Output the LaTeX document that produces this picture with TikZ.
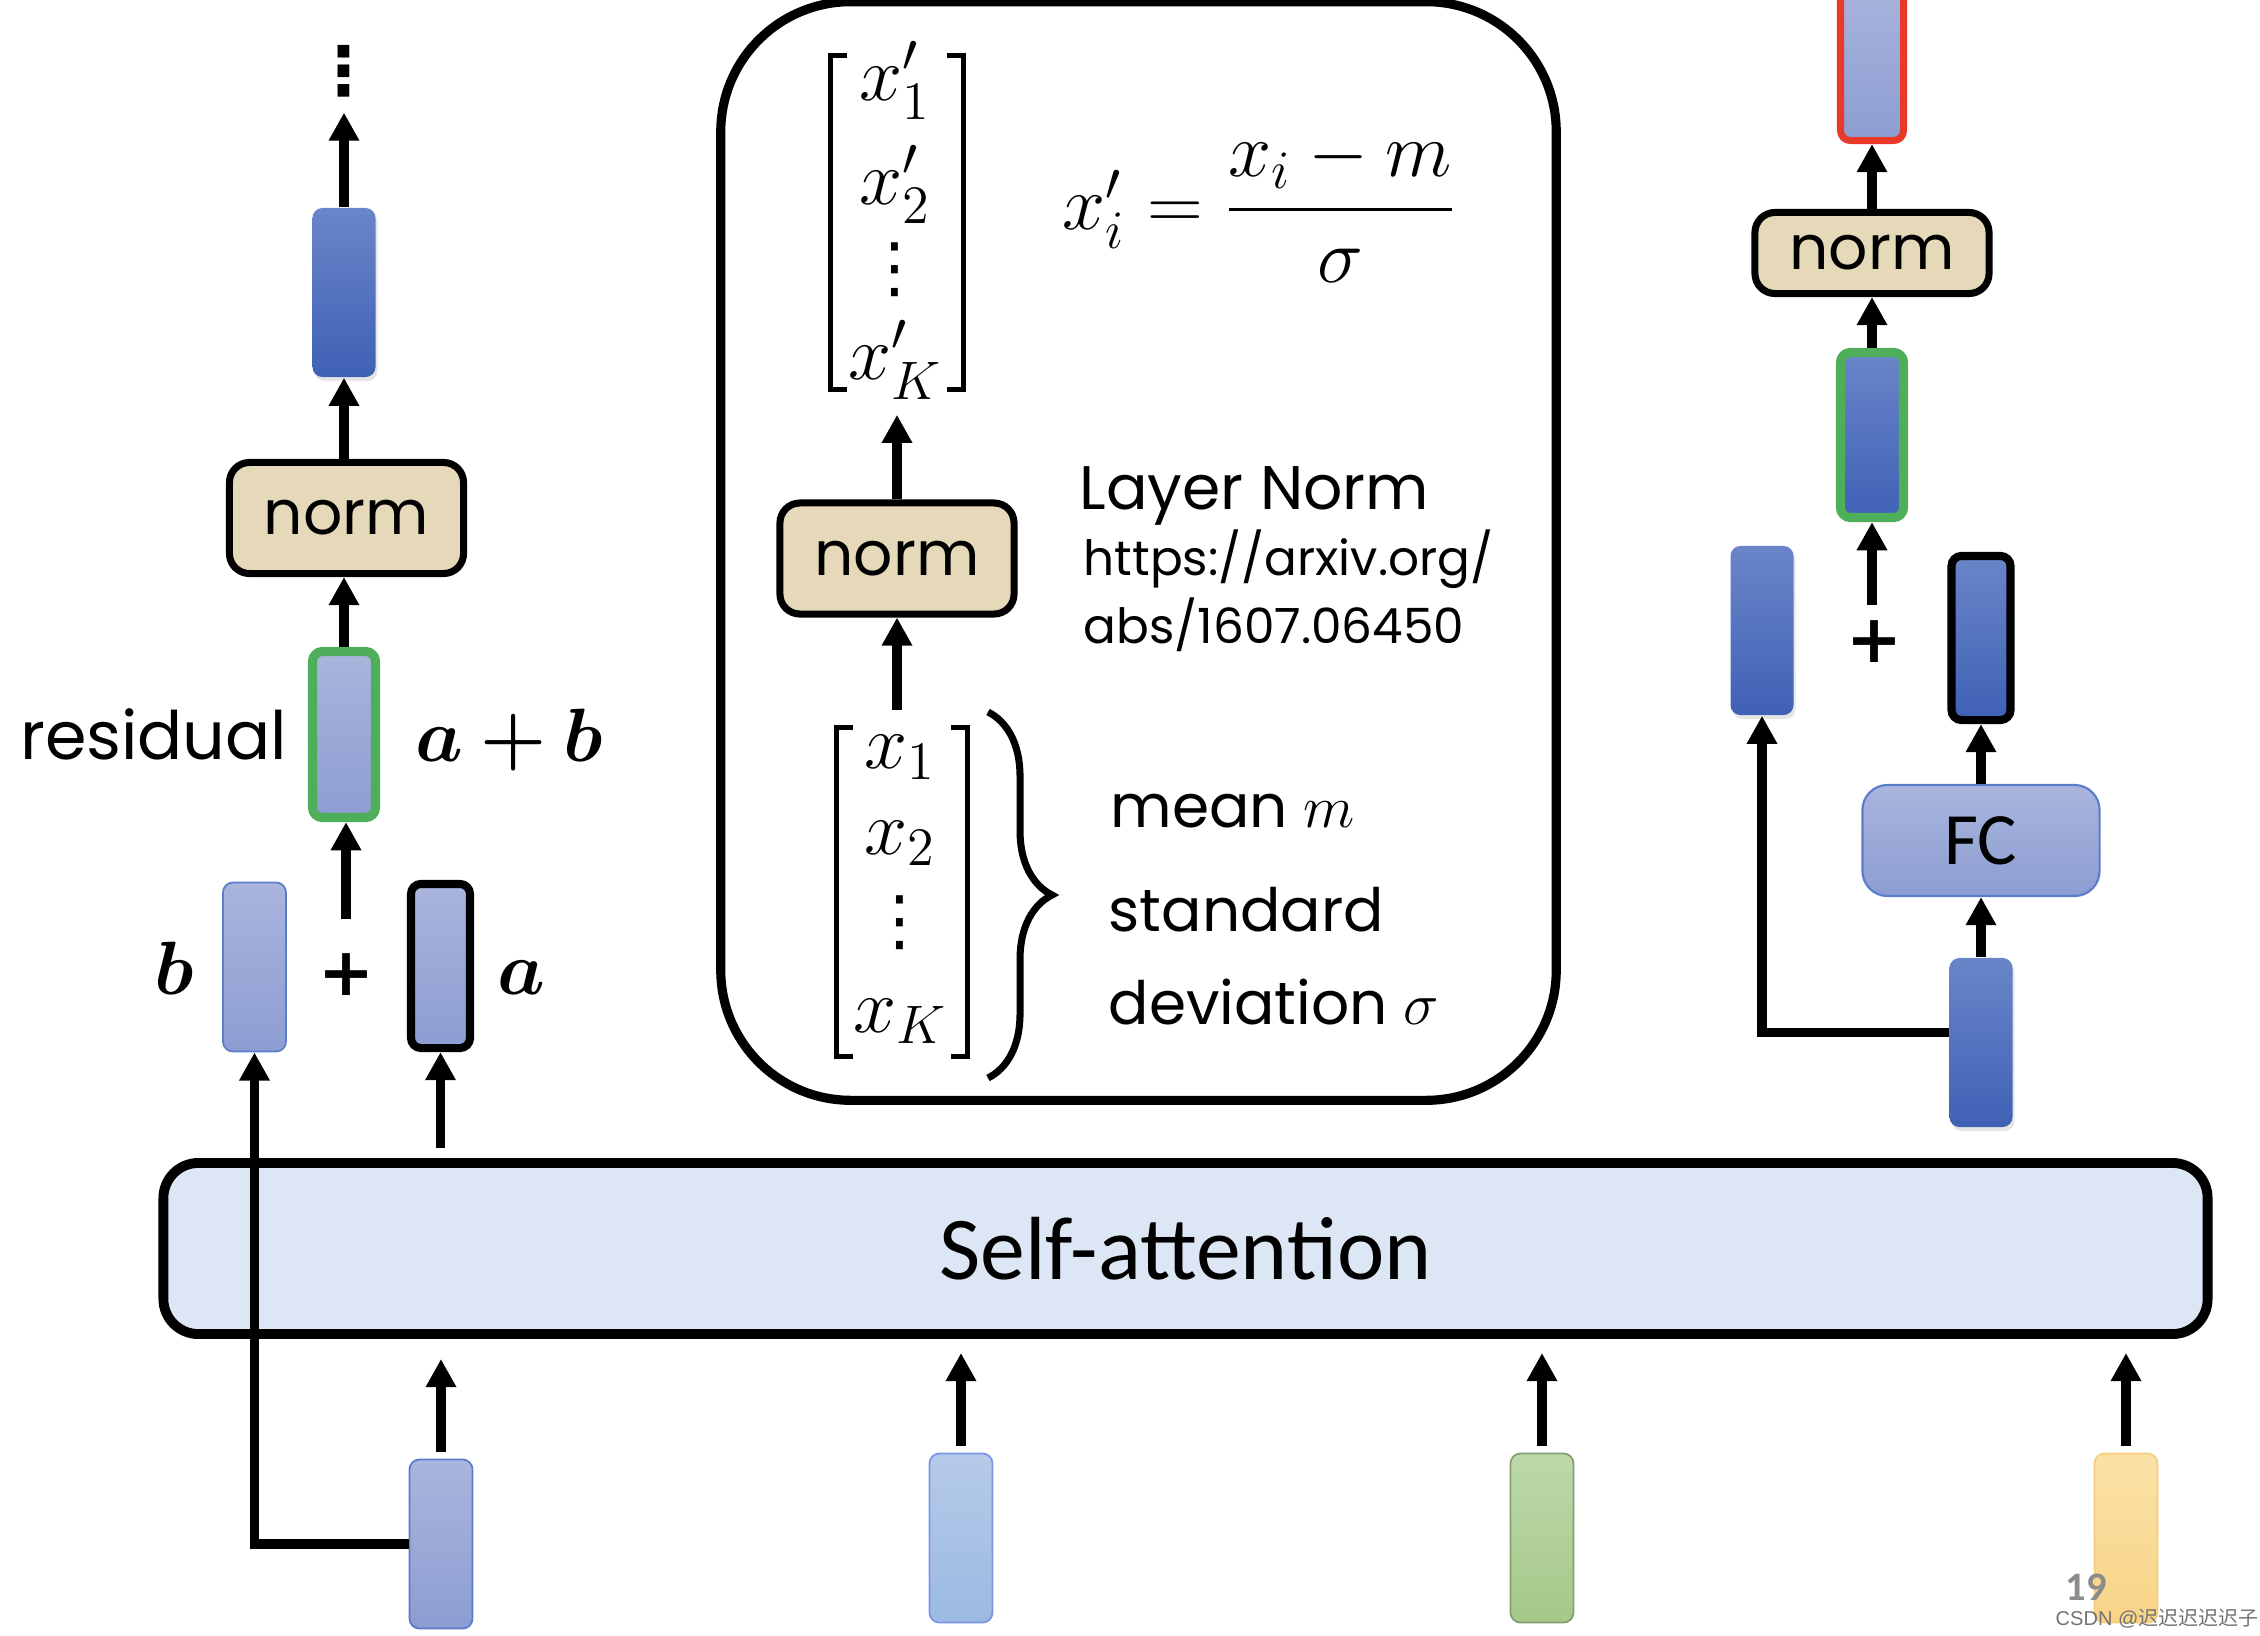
\documentclass[tikz,border=0pt]{standalone}
\usepackage{fix-cm}
\usepackage{amsmath,bm}
\usepackage[no-math]{fontspec}
\setmainfont{Poppins}
\newfontfamily\calfont{Carlito}
\newfontfamily\dvfont{DejaVu Sans}
\newfontfamily\wmfont{Liberation Sans}
\newfontfamily\cjkfont{Noto Sans CJK SC}
\usetikzlibrary{arrows.meta,decorations.pathreplacing,shadows}
\definecolor{dkT}{HTML}{6A85C9}
\definecolor{dkB}{HTML}{3F61B5}
\definecolor{ltT}{HTML}{AAB5DD}
\definecolor{ltB}{HTML}{8C9DD2}
\definecolor{vborder}{HTML}{5B7BCB}
\definecolor{normfill}{HTML}{E6D9B9}
\definecolor{safill}{HTML}{DCE6F4}
\definecolor{resgreen}{HTML}{4FAE5A}
\definecolor{outred}{HTML}{E8392A}
\definecolor{bluT}{HTML}{B6CAE9}
\definecolor{bluB}{HTML}{9BBAE2}
\definecolor{grnT}{HTML}{BED8AA}
\definecolor{grnB}{HTML}{A5C889}
\definecolor{yelT}{HTML}{FAE2A7}
\definecolor{yelB}{HTML}{F8D487}
\begin{document}
\begin{tikzpicture}[x=0.01cm,y=-0.01cm,
    vec/.style={rounded corners=0.1cm,minimum width=0.63cm,minimum height=1.69cm,inner sep=0pt},
    darkvec/.style={vec,top color=dkT,bottom color=dkB},
    lightvec/.style={vec,top color=ltT,bottom color=ltB},
    normbox/.style={draw,line width=2pt,rounded corners=0.2cm,fill=normfill,
        minimum width=2.34cm,minimum height=1.11cm,font=\fontsize{17.5}{20}\selectfont},
    plus/.style={inner sep=0pt,font=\dvfont\bfseries\fontsize{19}{21}\selectfont},
    mth/.style={inner sep=0pt,font=\fontsize{22}{26}\selectfont},
    vdts/.style={inner sep=0pt,text height=0.7em,text depth=0pt,font=\dvfont\fontsize{19}{21}\selectfont},
    lbl/.style={inner sep=0pt,anchor=base west},
    arr/.style={line width=2.6pt,-{Triangle[width=8.2pt,length=8pt]}},
    brk/.style={line width=1.4pt}]
    \useasboundingbox (0,0) rectangle (2260,1636);
    % layer norm panel
    \node[draw,line width=2.6pt,rounded corners=1.3cm,minimum width=8.35cm,minimum height=10.98cm] (lnbox) at (1138.5,551) {};
    \node[inner sep=0pt,minimum width=1.32cm,minimum height=3.33cm] (xout) at (897,222.5) {};
    \node[inner sep=0pt,minimum width=1.30cm,minimum height=3.28cm] (xin) at (902,892) {};
    \node[mth,anchor=base] (o1) at (895,100) {$x_1'$};
    \node[mth,anchor=base] (o2) at (895,204) {$x_2'$};
    \node[vdts] (o3) at (895,278) {⋮};
    \node[mth,anchor=base] (oK) at (895,379) {$x_K'$};
    \node[mth,anchor=base] (i1) at (900,768) {$x_1$};
    \node[mth,anchor=base] (i2) at (900,854) {$x_2$};
    \node[vdts] (i3) at (900,931) {⋮};
    \node[mth,anchor=base] (iK) at (900,1032) {$x_K$};
    \draw[brk] ([xshift=0.17cm]xout.north west) -- (xout.north west) -- (xout.south west) -- ++(17,0);
    \draw[brk] ([xshift=-0.17cm]xout.north east) -- (xout.north east) -- (xout.south east) -- ++(-17,0);
    \draw[brk] ([xshift=0.17cm]xin.north west) -- (xin.north west) -- (xin.south west) -- ++(17,0);
    \draw[brk] ([xshift=-0.17cm]xin.north east) -- (xin.north east) -- (xin.south east) -- ++(-17,0);
    \draw[line width=2pt,decorate,decoration={brace,amplitude=0.64cm}] (988,712) -- (988,1078);
    \node[normbox] (norm2) at (897,558.5) {norm};
    \node[mth,anchor=base west] (fml) at (1062,229) {$x_i' = \dfrac{x_i - m}{\sigma}$};
    \node[lbl,font=\fontsize{17.5}{20}\selectfont] (lnname) at (1079,509) {Layer Norm};
    \node[lbl,font=\fontsize{13.8}{16}\selectfont] (url1) at (1083,575) {https://arxiv.org/};
    \node[lbl,font=\fontsize{13.8}{16}\selectfont] (url2) at (1083,643) {abs/1607.06450};
    \node[lbl,font=\fontsize{17}{20}\selectfont] (mean) at (1110,827) {mean $m$};
    \node[lbl,font=\fontsize{17}{20}\selectfont] (std1) at (1108,931) {standard};
    \node[lbl,font=\fontsize{17}{20}\selectfont] (std2) at (1108,1024) {deviation $\sigma$};
    \draw[arr,shorten <=0.17cm] (norm2.south |- xin.north) -- (norm2.south);
    \draw[arr,shorten >=0.25cm] (norm2.north) -- (norm2.north |- xout.south);
    % self-attention and inputs
    \node[draw,line width=2.8pt,rounded corners=0.35cm,fill=safill,minimum width=20.43cm,minimum height=1.71cm,
        font=\calfont\fontsize{25.5}{30}\selectfont] (sa) at (1185.5,1248.5) {Self-attention};
    \node[lightvec,draw=vborder,line width=0.5pt] (x1) at (441,1544) {};
    \node[vec,top color=bluT,bottom color=bluB,draw=bluB!80!blue,line width=0.5pt] (x2) at (961,1538) {};
    \node[vec,top color=grnT,bottom color=grnB,draw=grnB!80!black,line width=0.5pt] (x3) at (1542,1538) {};
    \node[vec,top color=yelT,bottom color=yelB,draw=yelB!90!orange,line width=0.5pt] (x4) at (2126,1538) {};
    \draw[arr,shorten <=0.07cm,shorten >=0.2cm] (x1.north) -- (x1.north |- sa.south);
    \draw[arr,shorten <=0.07cm,shorten >=0.14cm] (x2.north) -- (x2.north |- sa.south);
    \draw[arr,shorten <=0.07cm,shorten >=0.14cm] (x3.north) -- (x3.north |- sa.south);
    \draw[arr,shorten <=0.07cm,shorten >=0.14cm] (x4.north) -- (x4.north |- sa.south);
    % residual, left
    \node[darkvec,drop shadow={opacity=0.2,shadow xshift=0.02cm,shadow yshift=-0.04cm}] (vtop) at (344,292.5) {};
    \node[inner sep=0pt,font=\dvfont\bfseries\fontsize{19}{21}\selectfont] (dots) at (344,71) {⋮};
    \node[normbox] (norm1) at (346.5,518) {norm};
    \node[lightvec,draw=resgreen,line width=2.6pt,minimum height=1.66cm] (sum1) at (344,734.5) {};
    \node[lightvec,draw=vborder,line width=0.5pt] (bvec) at (254.5,967) {};
    \node[lightvec,draw,line width=2.3pt,minimum width=0.59cm,minimum height=1.64cm] (avec) at (440.5,966) {};
    \node[plus] (plus1) at (346,975) {+};
    \node[inner sep=0pt,anchor=base east,font=\fontsize{19}{22}\selectfont] (reslbl) at (288,759) {residual};
    \node[inner sep=0pt,anchor=base west,font=\fontsize{21.5}{24}\selectfont] (sumlbl) at (415,761) {$\bm{a+b}$};
    \node[inner sep=0pt,anchor=base,font=\fontsize{21.5}{24}\selectfont] (blbl) at (174,994) {$\bm{b}$};
    \node[inner sep=0pt,anchor=base,font=\fontsize{21.5}{24}\selectfont] (albl) at (521,994) {$\bm{a}$};
    \draw[arr] (x1.west) -| (bvec.south);
    \draw[arr,shorten <=0.1cm] (avec.south |- sa.north) -- (avec.south);
    \draw[arr,shorten <=0.34cm] (plus1.north) -- (plus1.north |- sum1.south);
    \draw[arr] (sum1.north) -- (sum1.north |- norm1.south);
    \draw[arr] (norm1.north -| vtop.south) -- (vtop.south);
    \draw[arr,shorten >=0.15cm] (vtop.north) -- (dots.south);
    % residual, right
    \node[lightvec,draw=outred,line width=2pt,minimum height=1.63cm] (redv) at (1872,59) {};
    \node[normbox,minimum height=0.81cm] (norm3) at (1872,253) {norm};
    \node[darkvec,draw=resgreen,line width=2.6pt,minimum height=1.65cm] (sum2) at (1872,435) {};
    \node[plus] (plus2) at (1874,642) {+};
    \node[darkvec,drop shadow={opacity=0.2,shadow xshift=0.02cm,shadow yshift=-0.04cm}] (res2) at (1762,630.5) {};
    \node[darkvec,draw,line width=2.3pt,minimum width=0.59cm,minimum height=1.64cm] (fcout) at (1981,638) {};
    \node[draw=vborder,line width=0.6pt,rounded corners=0.25cm,top color=ltT,bottom color=ltB,
        minimum width=2.37cm,minimum height=1.11cm,font=\calfont\fontsize{21}{24}\selectfont] (fc) at (1981,840.5) {FC};
    \node[darkvec,drop shadow={opacity=0.2,shadow xshift=0.02cm,shadow yshift=-0.04cm}] (att2) at (1981,1042.5) {};
    \draw[arr] (att2.north) -- (fc.south);
    \draw[arr] (fc.north) -- (fcout.south);
    \draw[arr] ([yshift=0.1cm]att2.west) -| (res2.south);
    \draw[arr,shorten <=0.15cm] (plus2.north -| sum2.south) -- (sum2.south);
    \draw[arr] (sum2.north) -- (norm3.south);
    \draw[arr] (norm3.north) -- (redv.south);
    % page number, watermark
    \node[inner sep=0pt,text=black!45,font=\calfont\bfseries\fontsize{11.5}{13}\selectfont] (pgno) at (2086,1587) {19};
    \node[lbl,text=black!55,font=\wmfont\fontsize{5.7}{7}\selectfont] (wmark) at (2055,1625) {CSDN @{\cjkfont 迟迟迟迟迟子}};
\end{tikzpicture}
\end{document}
